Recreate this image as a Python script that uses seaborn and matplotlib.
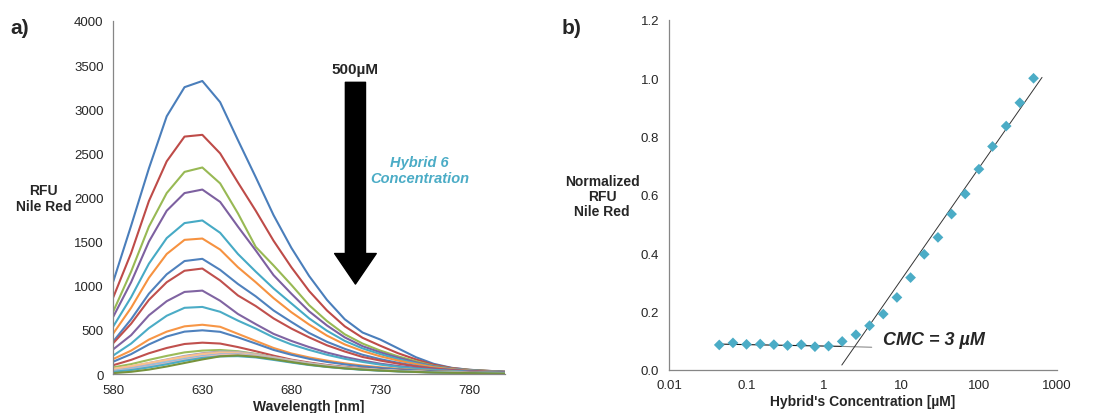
import numpy as np
import pandas as pd
import matplotlib
matplotlib.use('Agg')
import matplotlib.pyplot as plt
import seaborn as sns

# --- data ---
wavelength = [580, 590, 600, 610, 620, 630, 640, 650, 660, 670, 680, 690,
              700, 710, 720, 730, 740, 750, 760, 770, 780, 790, 800]

# Hybrid 6 concentrations [uM], highest first (one spectrum per concentration)
conc = [500, 333, 222, 148, 98.8, 65.8, 43.9, 29.3, 19.5, 13.0, 8.67, 5.78,
        3.85, 2.57, 1.71, 1.14, 0.761, 0.507, 0.338, 0.225, 0.150, 0.100, 0.0668, 0.0445]

# Nile Red emission spectra (RFU), same order as conc
rfu = [
    [1050, 1680, 2330, 2920, 3250, 3320, 3080, 2650, 2230, 1800, 1430, 1110, 840, 620, 470, 390, 290, 190, 115, 70, 48, 36, 26],
    [870, 1370, 1960, 2410, 2690, 2710, 2500, 2170, 1850, 1510, 1210, 940, 720, 540, 410, 320, 235, 165, 105, 68, 47, 36, 26],
    [710, 1160, 1670, 2050, 2290, 2340, 2160, 1820, 1440, 1230, 1010, 780, 600, 450, 345, 265, 200, 145, 92, 62, 46, 35, 25],
    [650, 1040, 1500, 1850, 2050, 2090, 1950, 1670, 1400, 1120, 910, 710, 550, 415, 315, 245, 185, 132, 87, 60, 43, 32, 24],
    [540, 870, 1250, 1540, 1710, 1740, 1600, 1360, 1160, 970, 800, 630, 490, 375, 290, 225, 168, 122, 82, 56, 41, 30, 22],
    [460, 750, 1090, 1360, 1520, 1535, 1410, 1210, 1040, 860, 700, 560, 435, 335, 260, 200, 152, 112, 76, 53, 38, 28, 20],
    [370, 620, 910, 1130, 1280, 1305, 1180, 1020, 880, 720, 590, 465, 365, 285, 218, 168, 127, 92, 63, 46, 33, 25, 18],
    [350, 570, 840, 1040, 1170, 1195, 1060, 890, 770, 630, 515, 415, 325, 255, 193, 152, 117, 86, 61, 44, 32, 24, 18],
    [280, 440, 665, 825, 930, 945, 830, 680, 565, 455, 375, 305, 243, 193, 152, 117, 91, 69, 51, 38, 28, 21, 16],
    [210, 345, 520, 660, 750, 760, 705, 605, 515, 415, 335, 273, 218, 172, 137, 106, 81, 61, 46, 34, 25, 19, 14],
    [170, 265, 390, 480, 540, 558, 535, 455, 375, 295, 233, 188, 152, 121, 96, 76, 59, 46, 35, 26, 20, 15, 11],
    [140, 225, 335, 425, 480, 495, 478, 415, 345, 273, 218, 172, 137, 109, 86, 68, 53, 41, 31, 23, 17, 13, 10],
    [100, 160, 235, 295, 340, 355, 345, 305, 258, 208, 163, 130, 102, 81, 64, 51, 40, 31, 23, 17, 13, 10, 8],
    [75, 112, 160, 205, 245, 265, 272, 258, 228, 188, 152, 120, 94, 73, 58, 46, 36, 28, 21, 15, 12, 9, 7],
    [55, 85, 125, 165, 205, 235, 255, 250, 225, 190, 155, 122, 95, 74, 58, 46, 36, 28, 21, 16, 12, 9, 7],
    [50, 80, 120, 160, 200, 232, 250, 245, 222, 188, 152, 120, 94, 73, 57, 45, 35, 27, 20, 15, 12, 9, 7],
    [45, 72, 110, 150, 192, 225, 245, 242, 220, 185, 150, 118, 92, 72, 56, 44, 34, 26, 20, 15, 11, 9, 7],
    [40, 68, 105, 145, 186, 220, 240, 238, 215, 182, 148, 116, 90, 70, 55, 43, 33, 26, 19, 14, 11, 8, 6],
    [35, 60, 95, 135, 175, 210, 232, 232, 212, 180, 145, 114, 88, 68, 53, 42, 33, 25, 19, 14, 11, 8, 6],
    [60, 90, 125, 160, 195, 225, 240, 236, 214, 180, 146, 115, 90, 70, 55, 43, 34, 26, 20, 15, 11, 8, 6],
    [30, 55, 88, 125, 165, 200, 222, 224, 206, 175, 142, 112, 87, 67, 52, 41, 32, 25, 19, 14, 10, 8, 6],
    [28, 50, 82, 118, 158, 192, 215, 218, 200, 170, 138, 108, 84, 65, 51, 40, 31, 24, 18, 13, 10, 8, 6],
    [25, 45, 75, 110, 150, 182, 200, 202, 188, 160, 130, 102, 80, 62, 48, 38, 30, 23, 17, 13, 10, 7, 5],
    [10, 25, 50, 85, 125, 165, 200, 210, 195, 168, 136, 106, 82, 64, 50, 39, 30, 23, 17, 13, 10, 7, 5],
]

curve_colors = ['#4A7EBB', '#BE4B48', '#98B954', '#7D60A0', '#46AAC5', '#F69240',
                '#4F81BD', '#C0504D', '#8064A2', '#4BACC6', '#F79646', '#4F81BD',
                '#C0504D', '#9BBB59', '#95B3D7', '#D99694', '#C3D69B', '#B3A2C7',
                '#93CDDD', '#FAC090', '#8EB4E3', '#E6B9B8', '#4BACC6', '#77933C']

# normalized RFU at the emission max, same order as conc
norm_rfu = [1.000, 0.916, 0.836, 0.766, 0.688, 0.603, 0.534, 0.454, 0.396, 0.316,
            0.248, 0.191, 0.151, 0.120, 0.097, 0.081, 0.079, 0.086, 0.083, 0.086,
            0.088, 0.087, 0.092, 0.085]

# trend lines (end points)
flat_x = [0.041, 1.7]
flat_y = [0.088, 0.080]
flat_grey_x = [1.7, 4.1]
flat_grey_y = [0.080, 0.077]
fit_x = [1.69, 643]
fit_y = [0.016, 1.003]

sns.set_style('white')
plt.rcParams['font.family'] = ['Liberation Sans', 'DejaVu Sans']

grey = '#868686'
txt = '#262626'

fig = plt.figure(figsize=(10.99, 4.14), dpi=100)
ax1 = fig.add_axes([0.1031, 0.0942, 0.3564, 0.8527])
ax2 = fig.add_axes([0.6087, 0.1046, 0.3530, 0.8447])

# --- panel a: spectra ---
labels = [f'{c} uM' for c in conc]
spec = pd.DataFrame([(lab, w, v) for lab, row in zip(labels, rfu)
                     for w, v in zip(wavelength, row)],
                    columns=['series', 'wavelength', 'rfu'])
sns.lineplot(data=spec, x='wavelength', y='rfu', hue='series', hue_order=labels,
             palette=curve_colors, legend=False, lw=1.5, sort=False, ax=ax1)
ax1.set_xlim(580, 800)
ax1.set_ylim(0, 4000)
ax1.set_xticks([580, 630, 680, 730, 780])
ax1.set_yticks(range(0, 4001, 500))
ax1.set_xlabel('Wavelength [nm]', fontsize=10, fontweight='bold', labelpad=2)
ax1.set_ylabel('')

ax1.annotate('', xy=(716, 1019), xytext=(716, 3305),
             arrowprops=dict(arrowstyle='simple,head_length=2.2,head_width=3.0,tail_width=1.45',
                             mutation_scale=10, color='black', shrinkA=0, shrinkB=0))
ax1.text(716, 3455, '500µM', ha='center', va='center', fontsize=11, fontweight='bold')
ax1.text(752, 2310, 'Hybrid 6\nConcentration', ha='center', va='center', fontsize=10.5,
         fontweight='bold', style='italic', color='#4BACC6', linespacing=1.15)

# --- panel b: CMC plot ---
sns.scatterplot(x=conc, y=norm_rfu, marker='D', color='#4BACC6', s=30,
                edgecolor='none', ax=ax2, zorder=3)
ax2.plot(flat_x, flat_y, color='#1a1a1a', lw=0.8)
ax2.plot(flat_grey_x, flat_grey_y, color='#8c8c8c', lw=0.8)
ax2.plot(fit_x, fit_y, color='#333333', lw=0.7)
ax2.set_xscale('log')
ax2.set_xlim(0.01, 1000)
ax2.set_ylim(0, 1.2)
ax2.set_xticks([0.01, 0.1, 1, 10, 100, 1000])
ax2.set_xticklabels(['0.01', '0.1', '1', '10', '100', '1000'])
ax2.xaxis.set_minor_locator(matplotlib.ticker.NullLocator())
ax2.set_yticks(np.arange(0, 1.21, 0.2))
ax2.set_yticklabels([f'{v:.1f}' for v in np.arange(0, 1.21, 0.2)])
ax2.set_xlabel("Hybrid's Concentration [µM]", fontsize=10, fontweight='bold', labelpad=2)
ax2.set_ylabel('')
ax2.text(26, 0.105, 'CMC = 3 µM', ha='center', va='center', fontsize=13,
         fontweight='bold', style='italic')

for ax in (ax1, ax2):
    for side in ('top', 'right'):
        ax.spines[side].set_visible(False)
    for side in ('left', 'bottom'):
        ax.spines[side].set_color(grey)
        ax.spines[side].set_linewidth(0.9)
    ax.tick_params(direction='out', length=4, width=0.9, color=grey,
                   labelsize=9.5, labelcolor=txt, pad=3)
    ax.xaxis.label.set_color(txt)

# y labels and panel letters
fig.text(43.5 / 1099, 1 - 199 / 414, 'RFU\nNile Red', ha='center', va='center',
         fontsize=10, fontweight='bold', color=txt, linespacing=1.1)
fig.text(602 / 1099, 1 - 197 / 414, 'Normalized\nRFU\nNile Red', ha='center', va='center',
         fontsize=10, fontweight='bold', color=txt, linespacing=1.1)
fig.text(20 / 1099, 1 - 28 / 414, 'a)', ha='center', va='center', fontsize=15, fontweight='bold')
fig.text(572 / 1099, 1 - 28 / 414, 'b)', ha='center', va='center', fontsize=15, fontweight='bold')

fig.savefig('out.png', dpi=100)
